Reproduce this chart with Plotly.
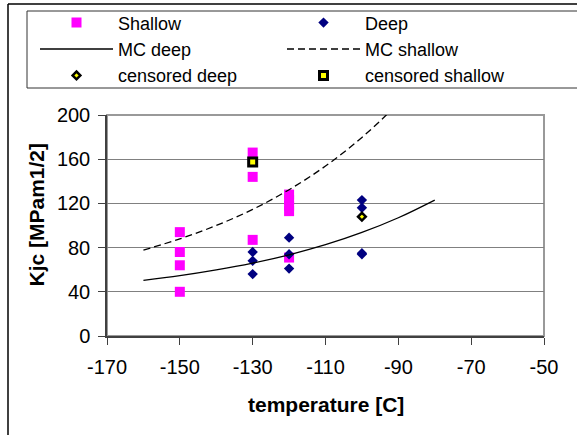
import plotly.graph_objects as go

# Shallow specimens: temperature [C] and Kjc [MPa m^1/2]
shallow_T = [-150, -150, -150, -150, -130, -130, -130, -120, -120, -120, -120, -120]
shallow_K = [94, 76, 64, 40, 166, 144, 87, 128, 123, 118, 113, 71]

# Deep specimens
deep_T = [-130, -130, -130, -120, -120, -120, -100, -100, -100, -100]
deep_K = [76, 68, 56, 89, 74, 61, 123, 116, 75, 74]

# Master curve estimates (deep / shallow)
mc_T = [-160, -150, -140, -130, -120, -110, -100, -90, -80]
mc_deep_K = [50.4, 54.6, 59.8, 66.0, 73.5, 82.6, 93.7, 107.0, 123.0]
mc_shallow_K = [77.8, 87.9, 100.0, 114.6, 132.4, 153.8, 179.7, 211.0, 248.9]

# Censored results
cens_deep_T = [-100]
cens_deep_K = [108]
cens_shallow_T = [-130]
cens_shallow_K = [157.5]

x_ticks = [-170, -150, -130, -110, -90, -70, -50]
x_tick_labels = ["-170", "-150", "-130", "-110", "-90", "-70", "-50"]
y_ticks = [0, 40, 80, 120, 160, 200]

FONT = "Liberation Sans, Arial, sans-serif"
W, H = 577, 435
ML, MR, MT, MB = 107, 33, 115, 99
PW, PH = W - ML - MR, H - MT - MB


def px_x(px):
    return (px - ML) / PW


def px_y(py):
    return (H - MB - py) / PH


fig = go.Figure()
fig.add_trace(go.Scatter(
    x=shallow_T, y=shallow_K, mode="markers", name="Shallow",
    marker=dict(symbol="square", size=10, color="#ff00ff"),
))
fig.add_trace(go.Scatter(
    x=deep_T, y=deep_K, mode="markers", name="Deep",
    marker=dict(symbol="diamond", size=8, color="#000080"),
))
fig.add_trace(go.Scatter(
    x=mc_T, y=mc_deep_K, mode="lines", name="MC deep",
    line=dict(color="black", width=1.3, shape="spline"),
))
fig.add_trace(go.Scatter(
    x=mc_T, y=mc_shallow_K, mode="lines", name="MC shallow",
    line=dict(color="black", width=1.3, dash="7px,4px", shape="spline"),
))
fig.add_trace(go.Scatter(
    x=cens_deep_T, y=cens_deep_K, mode="markers", name="censored deep",
    marker=dict(symbol="diamond", size=6, color="#ffff00",
                line=dict(color="black", width=2.5)),
))
fig.add_trace(go.Scatter(
    x=cens_shallow_T, y=cens_shallow_K, mode="markers", name="censored shallow",
    marker=dict(symbol="square", size=8, color="#ffff00",
                line=dict(color="black", width=3)),
))

axis_line = "#404040"
fig.update_xaxes(
    range=[-170, -50], tickvals=x_ticks, ticktext=x_tick_labels,
    ticks="outside", ticklen=7, ticklabelstandoff=5,
    tickcolor=axis_line, showline=True, linecolor=axis_line, linewidth=1.5,
    showgrid=False, zeroline=False,
    tickfont=dict(family=FONT, size=20, color="black"),
)
fig.update_yaxes(
    range=[0, 200], tickvals=y_ticks, ticks="outside", ticklen=7,
    ticklabelstandoff=4,
    tickcolor=axis_line, showline=True, linecolor=axis_line, linewidth=1.5,
    showgrid=True, gridcolor="#808080", gridwidth=1, zeroline=False,
    tickfont=dict(family=FONT, size=20, color="black"),
)

shapes = [
    # plot area frame
    dict(type="rect", xref="paper", yref="paper", x0=0, x1=1, y0=0, y1=1,
         line=dict(color="#999999", width=2), layer="below"),
    # legend frame
    dict(type="rect", xref="paper", yref="paper",
         x0=px_x(27), x1=px_x(600), y0=px_y(88), y1=px_y(11),
         line=dict(color="#333333", width=1), fillcolor="rgba(0,0,0,0)"),
    # chart frame (left and top edges)
    dict(type="line", xref="paper", yref="paper",
         x0=px_x(8), x1=px_x(8), y0=px_y(4), y1=px_y(450),
         line=dict(color="black", width=1.5)),
    dict(type="line", xref="paper", yref="paper",
         x0=px_x(8), x1=px_x(600), y0=px_y(4), y1=px_y(4),
         line=dict(color="black", width=1.5)),
]

annotations = [
    dict(text="<b>Kjc [MPam1/2]</b>", xref="paper", yref="paper",
         x=px_x(36), y=px_y(214.5), textangle=-90, showarrow=False,
         xanchor="center", yanchor="middle",
         font=dict(family=FONT, size=21, color="black")),
    dict(text="<b>temperature [C]</b>", xref="paper", yref="paper",
         x=px_x(325.5), y=px_y(404), showarrow=False,
         xanchor="center", yanchor="middle",
         font=dict(family=FONT, size=21, color="black")),
]

LEG_FONT = 18
row_h = LEG_FONT * 1.3 + 3
first_row = 49 - row_h
leg_top = first_row - row_h / 2 - 5

fig.update_layout(
    width=W, height=H,
    margin=dict(l=ML, r=MR, t=MT, b=MB, pad=0, autoexpand=False),
    paper_bgcolor="white", plot_bgcolor="rgba(0,0,0,0)",
    shapes=shapes, annotations=annotations,
    showlegend=True,
    legend=dict(
        orientation="h", x=px_x(35), y=px_y(leg_top),
        xanchor="left", yanchor="top",
        itemwidth=73, entrywidth=159, entrywidthmode="pixels",
        bgcolor="rgba(0,0,0,0)", borderwidth=0,
        font=dict(family=FONT, size=LEG_FONT, color="black"),
        traceorder="normal",
    ),
)

fig.write_html("out.html")
